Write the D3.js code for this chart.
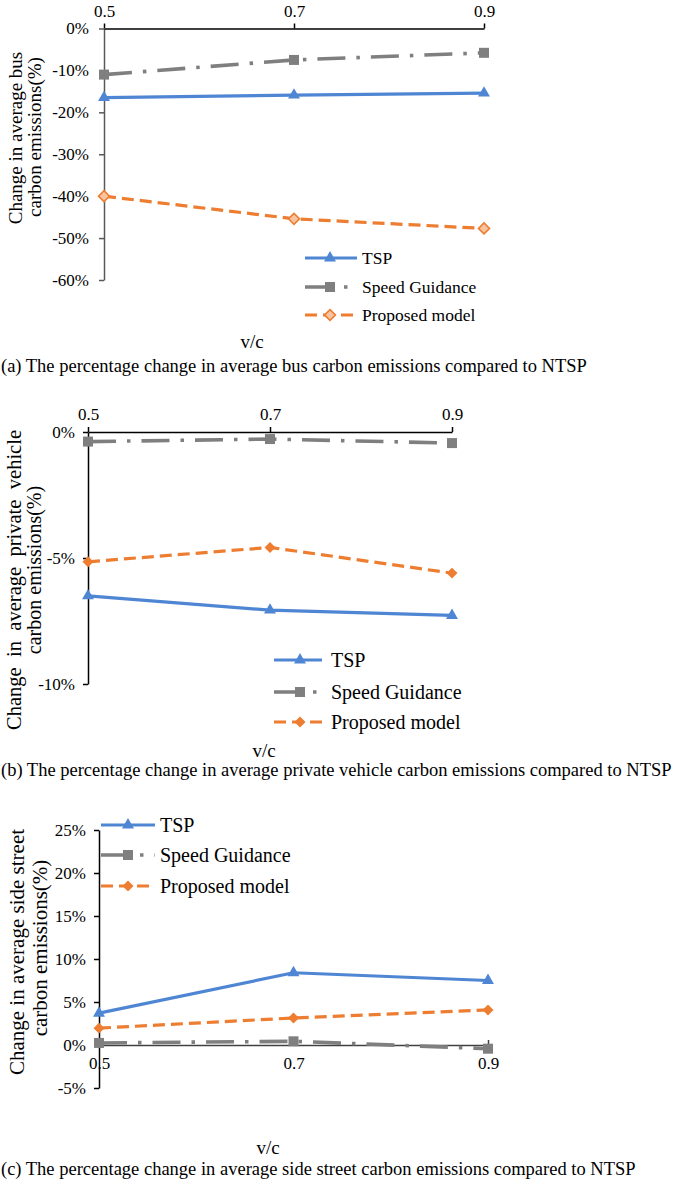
<!DOCTYPE html>
<html><head><meta charset="utf-8">
<script src="https://cdn.jsdelivr.net/npm/d3@7"></script>
<style>
body{margin:0;background:#fff}
svg{display:block}
text{font-family:"Liberation Serif","Times New Roman",serif;fill:#000}
</style>
</head><body>
<svg id="chart" width="675" height="1182"></svg>
<script>
// ---------------- data ----------------
const categories = ["0.5", "0.7", "0.9"];
const seriesNames = ["TSP", "Speed Guidance", "Proposed model"];

const busTSP = [-16.5, -15.9, -15.4];
const busSpeedGuidance = [-11.0, -7.5, -5.8];
const busProposed = [-40.0, -45.4, -47.7];

const privateTSP = [-6.5, -7.07, -7.28];
const privateSpeedGuidance = [-0.38, -0.28, -0.44];
const privateProposed = [-5.15, -4.58, -5.6];

const sideTSP = [3.7, 8.4, 7.5];
const sideSpeedGuidance = [0.24, 0.43, -0.43];
const sideProposed = [1.96, 3.14, 4.08];

const busTicks = [0, -10, -20, -30, -40, -50, -60];
const privateTicks = [0, -5, -10];
const sideTicks = [25, 20, 15, 10, 5, 0, -5];

const xTitle = "v/c";
const captions = [
  "(a) The percentage change in average bus carbon emissions compared to NTSP",
  "(b) The percentage change in average private vehicle carbon emissions compared to NTSP",
  "(c) The percentage change in average side street carbon emissions compared to NTSP"
];
const yTitles = [
  ["Change in average bus", "carbon emissions(%)"],
  ["Change in average private vehicle", "carbon emissions(%)"],
  ["Change in average side street", "carbon emissions(%)"]
];

// ---------------- styles ----------------
const seriesStyle = [
  {color: "#4f86d4", dash: null, width: 3.2, marker: "triangle"},
  {color: "#7f7f7f", dash: "28 11 3.5 11", width: 3.6, marker: "square"},
  {color: "#ed7d31", dash: "12 6", width: 3.2, marker: "diamond"}
];

const svg = d3.select("#chart");

function markerPath(type) {
  if (type === "triangle") return d3.symbol().type(d3.symbolTriangle).size(62)();
  if (type === "square") return d3.symbol().type(d3.symbolSquare).size(100)();
  return d3.symbol().type(d3.symbolSquare).size(60)();
}

function drawMarker(g, type, x, y, st, hollow) {
  const p = g.append("path")
    .attr("d", markerPath(type))
    .attr("transform", `translate(${x},${y})` + (type === "diamond" ? " rotate(45)" : ""))
    .attr("fill", hollow ? "#f8c4a0" : st.color);
  if (hollow) p.attr("stroke", st.color).attr("stroke-width", 1.6);
  return p;
}

function panel(cfg) {
  const g = svg.append("g");
  const x = d3.scalePoint().domain(categories).range(cfg.xRange);
  const y = d3.scaleLinear().domain(cfg.yDomain).range(cfg.yRange);

  // y axis
  const yAx = g.append("g").attr("transform", `translate(${cfg.xRange[0]},0)`)
    .call(d3.axisLeft(y).tickValues(cfg.ticks).tickFormat(d => d + "%")
      .tickSize(5).tickSizeOuter(0).tickPadding(cfg.yPad));
  yAx.selectAll("path,line").attr("stroke", cfg.yAxisColor).attr("stroke-width", 1.5);
  yAx.selectAll("text").attr("font-size", cfg.tickFs).attr("font-family", "Liberation Serif");

  // x axis at 0
  const y0 = y(0);
  let xAxis;
  if (cfg.xTop) {
    xAxis = d3.axisTop(x).tickSize(5).tickSizeOuter(0).tickPadding(cfg.xPad);
  } else {
    xAxis = d3.axisBottom(x).tickSizeInner(-5).tickSizeOuter(0).tickPadding(cfg.xPad);
  }
  const xAx = g.append("g").attr("transform", `translate(0,${y0})`).call(xAxis);
  xAx.selectAll("path,line").attr("stroke", cfg.xAxisColor).attr("stroke-width", 1.5);
  xAx.selectAll("text").attr("font-size", cfg.tickFs).attr("font-family", "Liberation Serif");

  // series
  const line = d3.line().x((d, i) => x(categories[i])).y(d => y(d));
  cfg.series.forEach((vals, si) => {
    const st = seriesStyle[si];
    g.append("path").datum(vals).attr("d", line)
      .attr("fill", "none").attr("stroke", st.color).attr("stroke-width", st.width)
      .attr("stroke-dasharray", st.dash).attr("stroke-linejoin", "round");
    vals.forEach((v, i) => drawMarker(g, st.marker, x(categories[i]), y(v), st, cfg.hollowDiamond && si === 2));
  });

  // legend
  const L = cfg.legend;
  seriesNames.forEach((name, si) => {
    const st = seriesStyle[si];
    const ly = L.ys[si];
    g.append("line").attr("x1", L.x0).attr("x2", L.x1).attr("y1", ly).attr("y2", ly)
      .attr("stroke", st.color).attr("stroke-width", st.width).attr("stroke-dasharray", st.dash);
    drawMarker(g, st.marker, L.mx, ly, st, cfg.hollowDiamond && si === 2);
    g.append("text").attr("x", L.tx).attr("y", ly).attr("dominant-baseline", "central")
      .attr("font-size", L.fs).text(name);
  });

  // y title (first line may be justified to a wider box)
  cfg.yTitle.forEach((t, k) => {
    const tx = g.append("text")
      .attr("transform", `translate(${cfg.yTitleX[k]},${cfg.yTitleY[k]}) rotate(-90)`)
      .attr("text-anchor", "middle").attr("dominant-baseline", "central")
      .attr("font-size", cfg.yTitleFs[k]).text(t);
    const target = cfg.yTitleLen ? cfg.yTitleLen[k] : null;
    if (target) {
      const nat = tx.node().getComputedTextLength();
      const spaces = (t.match(/ /g) || []).length;
      if (spaces > 0 && target > nat) tx.attr("word-spacing", (target - nat) / spaces);
    }
  });

  // x title
  g.append("text").attr("x", cfg.vc[0]).attr("y", cfg.vc[1])
    .attr("text-anchor", "middle").attr("dominant-baseline", "central")
    .attr("font-size", 19).text(xTitle);

  // caption
  g.append("text").attr("x", 1).attr("y", cfg.capY)
    .attr("dominant-baseline", "central").attr("font-size", cfg.capFs).text(cfg.caption);
}

panel({
  series: [busTSP, busSpeedGuidance, busProposed],
  xRange: [104, 484], yDomain: [-60, 0], yRange: [280, 28.5],
  ticks: busTicks, xTop: true, xPad: 7, yPad: 10, tickFs: 17,
  yAxisColor: "#595959", xAxisColor: "#000",
  hollowDiamond: true,
  legend: {x0: 305, x1: 357, mx: 330, tx: 362, ys: [258, 287, 315], fs: 17.5},
  yTitle: yTitles[0], yTitleX: [15, 34], yTitleY: [138, 137], yTitleFs: [19, 19],
  vc: [252, 341], capY: 366, capFs: 18.5, caption: captions[0]
});

panel({
  series: [privateTSP, privateSpeedGuidance, privateProposed],
  xRange: [88, 452], yDomain: [-10, 0], yRange: [684, 432],
  ticks: privateTicks, xTop: true, xPad: 7, yPad: 8, tickFs: 17,
  yAxisColor: "#000", xAxisColor: "#000",
  hollowDiamond: false,
  legend: {x0: 274, x1: 322, mx: 300, tx: 331, ys: [660, 692, 722], fs: 20},
  yTitle: yTitles[1], yTitleX: [14, 34], yTitleY: [580, 570], yTitleFs: [20.5, 20],
  yTitleLen: [300, null],
  vc: [264, 750], capY: 770, capFs: 18.5, caption: captions[1]
});

panel({
  series: [sideTSP, sideSpeedGuidance, sideProposed],
  xRange: [99, 488], yDomain: [-5, 25], yRange: [1088, 830],
  ticks: sideTicks, xTop: false, xPad: 12, yPad: 8, tickFs: 17,
  yAxisColor: "#000", xAxisColor: "#404040",
  hollowDiamond: false,
  legend: {x0: 101, x1: 155, mx: 128, tx: 160, ys: [825, 855, 886], fs: 20},
  yTitle: yTitles[2], yTitleX: [17, 40], yTitleY: [952, 948], yTitleFs: [21, 21],
  vc: [268, 1147], capY: 1169, capFs: 18.5, caption: captions[2]
});
</script>
</body></html>
